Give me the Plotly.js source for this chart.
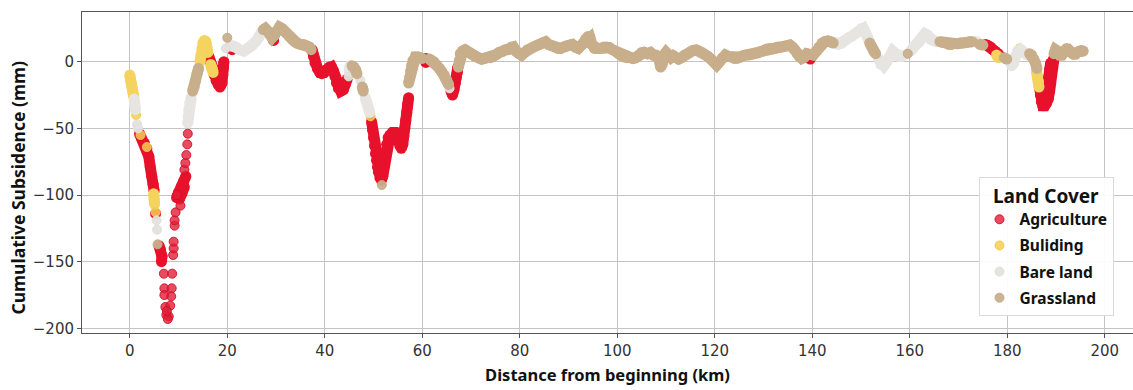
<!DOCTYPE html>
<html>
<head>
<meta charset="utf-8">
<script src="https://cdn.plot.ly/plotly-3.0.1.min.js"></script>
<style>html,body{margin:0;padding:0;background:#fff;}#chart{width:1133px;height:390px;}</style>
</head>
<body>
<div id="chart"></div>
<script>
// ---- DATA (distance km, cumulative subsidence mm) ----
const categories = ['Agriculture', 'Buliding', 'Bare land', 'Grassland'];
const xTicks = [0, 20, 40, 60, 80, 100, 120, 140, 160, 180, 200];
const yTicks = [-200, -150, -100, -50, 0];

// dense runs of points (null = break between runs)
const agricultureRuns = [
  [2.0,-54],[2.5,-58],[3.0,-61],[3.5,-65],[3.9,-71],[4.2,-79],[4.5,-86],[4.8,-92],[5.0,-97], null,
  [5.3,-114], null,
  [6.0,-138],[6.3,-141],[6.6,-146],[6.5,-150], null,
  [9.6,-102],[10.0,-98],[10.5,-94],[11.0,-90],[11.5,-86], null,
  [10.2,-103],[10.7,-99],[11.2,-94], null,
  [16.2,4],[16.5,0],[16.9,-5],[17.3,-10],[17.7,-14],[18.1,-17],[18.5,-19],[18.9,-16],[19.1,-10],[19.2,-5],[19.3,0], null,
  [17.6,-8],[18.2,-12],[18.7,-10], null,
  [21.0,9], null,
  [29.5,16], null,
  [37.4,9],[37.7,4],[38.0,-1],[38.5,-5],[39.0,-8],[39.4,-9],[39.9,-8],[40.4,-6],[40.9,-4],[41.4,-4],[41.8,-7],[42.1,-11],[42.4,-16],[42.8,-20],[43.3,-22],[43.8,-21],[44.2,-17],[44.6,-13], null,
  [49.6,-45],[49.8,-51],[50.0,-57],[50.2,-63],[50.4,-69],[50.6,-74],[50.8,-79],[51.0,-83],[51.3,-87],[51.6,-89],[51.9,-86],[52.1,-80],[52.3,-74],[52.5,-67],[52.7,-62],[53.0,-57],[53.4,-55],[53.9,-53],[54.4,-53],[54.8,-56],[55.1,-59],[55.4,-63],[55.7,-65],[56.0,-62],[56.2,-56],[56.4,-50],[56.6,-44],[56.8,-38],[57.0,-32],[57.2,-27], null,
  [50.9,-72],[51.4,-80],[51.9,-76], null,
  [60.75,-0.5],[60.75,2.5], null,
  [65.9,-22],[66.2,-25],[66.5,-21],[66.8,-16],[67.0,-12],[67.2,-8],[67.3,-4], null,
  [139.3,5],[139.6,2], null,
  [175.6,13],[176.1,12],[176.6,11],[177.1,9],[177.5,8],[178.1,6],[178.6,4], null,
  [186.6,-19],[186.8,-25],[187.0,-30],[187.3,-33],[187.7,-33],[188.1,-31],[188.4,-28],[188.7,-22],[188.9,-16],[189.1,-10],[189.3,-4],[189.5,1],[189.6,3], null,
  [187.6,-27],[188.0,-23],[188.3,-18],[188.5,-12],[188.7,-6],[188.9,-1], null
];
const agricultureDots = [
  [7.0,-159],[8.7,-159],[7.1,-170],[8.6,-170],[7.1,-175],[8.5,-176],[7.3,-184],[8.3,-183],
  [7.5,-190],[8.0,-191],[7.8,-193],[7.6,-187],
  [8.9,-145],[9.0,-140],[9.0,-135],[9.2,-123],[9.2,-119],[9.4,-113],[10.4,-108],[9.7,-100],
  [11.2,-81],[11.4,-76],[11.6,-70],[11.8,-62],[11.9,-54]
];
const buildingRuns = [
  [0.0,-10],[0.15,-13],[0.3,-16],[0.45,-19],[0.6,-22],[0.8,-26], null,
  [4.9,-99],[5.0,-103],[5.1,-107], null,
  [14.4,0],[14.6,5],[14.8,10],[15.0,14],[15.3,16],[15.6,15],[15.8,11],[16.0,7], null,
  [16.6,-2],[16.9,-5],[17.1,-8], null,
  [177.8,5],[178.2,3], null,
  [186.0,-7],[186.2,-11],[186.4,-15],[186.5,-19]
];
const buildingDots = [
  [1.3,-40],[2.2,-55],[3.5,-64],[5.3,-113],[49.4,-41],[182.5,10]
];
const bareRuns = [
  [0.9,-28],[1.0,-32],[1.15,-36], null,
  [11.9,-46],[12.0,-41],[12.1,-36],[12.3,-31],[12.6,-27], null,
  [20.6,12],[21.2,12],[21.7,11],[22.5,9],[23.4,8],[24.2,10],[25.1,12],[25.8,15],[26.4,18],[27.0,22], null,
  [45.0,-7],[45.2,-3], null,
  [48.3,-27],[48.6,-30],[48.9,-34],[49.2,-38], null,
  [144.6,14],[145.3,13],[146.0,14],[146.7,16],[147.4,18],[148.1,19],[148.8,21],[149.5,23],[150.1,25],[150.5,25],[150.9,22],[151.3,19],[151.7,15], null,
  [153.6,2],[154.1,-2],[154.7,-3],[155.3,0],[155.9,4],[156.5,8],[157.1,6],[157.7,4],[158.3,4],[158.9,5], null,
  [160.2,8],[160.8,11],[161.4,13],[162.0,15],[162.6,18],[163.1,21],[163.6,20],[164.2,17],[164.8,16],[165.5,15], null,
  [173.3,15],[173.8,15], null,
  [180.5,1],[180.9,-3],[181.3,-1],[181.7,4],[182.1,8],[182.8,9],[183.5,7],[184.1,5]
];
const bareDots = [
  [1.5,-47],[1.7,-50],[5.5,-119],[5.6,-126],[44.9,-11],[47.3,-14],[65.6,-20],[19.7,10]
];
const grassRuns = [
  [12.9,-22],[13.2,-19],[13.5,-14],[13.8,-9],[14.1,-5], null,
  [27.4,24],[27.8,25],[28.3,23],[28.8,20],[29.2,18],[29.7,20],[30.2,23],[30.7,26],[31.2,25],[31.7,23],[32.2,21],[32.7,19],[33.2,17],[33.8,15],[34.3,14],[35.0,13],[35.7,13],[36.3,12],[36.8,11],[37.2,9], null,
  [45.6,-3],[46.0,-4],[46.3,-6],[46.6,-9], null,
  [47.7,-19],[47.9,-22], null,
  [57.2,-16],[57.4,-12],[57.6,-7],[57.8,-3],[58.1,1],[58.6,3.5],[59.1,3.5],[59.6,3],[60.0,2.5], null,
  [61.5,2],[61.9,1],[62.4,0],[63.0,-2.5],[63.5,-5],[64.0,-7.5],[64.5,-10],[65.0,-13.7],[65.4,-17], null,
  [67.4,-4],[67.6,1],[67.8,6],[68.3,8],[68.8,9],[69.5,7],[70.2,5.5],[70.8,4],[71.5,3],[72.2,2],[72.8,2.5],[73.4,3],[74.0,3],[74.6,4],[75.2,5.5],[75.8,7],[76.4,7.5],[77.0,9],[77.7,9],[78.3,11],[78.7,11],[79.2,8],[79.8,6],[80.4,5],[81.0,7],[81.6,9],[82.2,10],[82.8,11],[83.4,12],[84.0,13],[84.6,14],[85.3,15],[85.9,13],[86.5,12],[87.2,11],[87.8,10],[88.4,10],[89.0,11],[89.6,12],[90.2,12.5],[90.8,13],[91.4,11],[92.0,10],[92.5,12],[93.0,14],[93.5,17],[94.0,19],[94.4,18],[94.8,13],[95.3,10],[95.9,10],[96.5,10],[97.2,11],[97.8,11],[98.4,10.5],[99.0,9],[99.6,8],[100.2,6],[100.8,4.5],[101.4,3.5],[102.0,3],[102.6,3],[103.2,2.5],[103.8,3],[104.4,5],[105.0,7],[105.6,7],[106.2,6],[106.8,7],[107.4,5],[108.0,5],[108.5,3],[108.9,-4],[109.2,-2],[109.6,5],[110.0,7],[110.5,5],[111.0,3],[111.5,4.5],[112.0,3],[112.6,2],[113.2,3],[113.8,5],[114.4,6],[115.0,7.5],[115.6,8.5],[116.2,8.8],[116.8,8],[117.4,7],[118.0,5.5],[118.6,4],[119.2,2],[119.8,0],[120.4,-2.5],[121.0,0],[121.6,3],[122.2,5],[122.8,4],[123.4,3.5],[124.0,2.5],[124.6,2.5],[125.2,3.5],[125.8,4.5],[126.4,5],[127.0,5],[127.6,5.5],[128.2,6],[128.8,6.5],[129.4,7.5],[130.0,8.5],[130.6,9.5],[131.2,10],[131.8,10],[132.4,10.5],[133.0,11],[133.6,11],[134.2,11.5],[134.8,12],[135.4,12.5],[135.9,11],[136.4,9],[136.9,6],[137.4,3.5],[137.9,2.5],[138.4,3.5],[138.9,6],[140.2,5],[140.8,8],[141.4,11],[142.0,14],[142.6,15],[143.2,15.5],[143.9,15],[144.3,14], null,
  [151.8,14],[152.2,11],[152.6,8],[153.0,6], null,
  [166.2,15],[166.8,14.5],[167.4,14],[168.0,13],[168.6,13],[169.2,13.5],[169.8,13.5],[170.4,14],[171.0,14],[171.6,14.5],[172.2,15],[172.8,15], null,
  [174.4,13],[175.0,12.5], null,
  [179.4,3],[179.9,2], null,
  [184.6,6],[185.0,5],[185.4,2],[185.8,-1],[186.1,-5], null,
  [189.6,6],[189.9,9],[190.3,8],[190.8,5],[191.2,5],[191.7,8],[192.2,10],[192.6,9],[193.1,7],[193.6,5.5],[194.1,6],[194.6,7.5],[195.1,8.5],[195.6,8]
];
const grassDots = [
  [5.7,-137],[20.0,18],[51.7,-92.5],[159.6,6]
];

// ---- STYLE ----
const style = {
  Agriculture: {run: '#e8112b', dot: 'rgba(226,30,55,0.8)', edge: 'rgba(205,15,40,0.9)'},
  Buliding:    {run: '#f4d35e', dot: 'rgba(244,206,80,0.85)', edge: 'rgba(240,200,70,0.9)'},
  'Bare land': {run: '#e7e5e1', dot: 'rgba(228,226,222,0.95)', edge: 'rgba(225,223,219,1)'},
  Grassland:   {run: '#c8ae8b', dot: 'rgba(200,176,142,0.95)', edge: 'rgba(195,170,135,1)'}
};
const RUN_SIZE = 11;
const DOT_SIZE = 9;
const xs = a => a.map(p => p ? p[0] : null);
const ys = a => a.map(p => p ? p[1] : null);

const sets = [
  ['Agriculture', agricultureRuns, agricultureDots],
  ['Buliding', buildingRuns, buildingDots],
  ['Bare land', bareRuns, bareDots],
  ['Grassland', grassRuns, grassDots]
];
const traces = [];
sets.forEach(([name, runs, dots]) => {
  const s = style[name];
  traces.push({
    type: 'scatter', mode: 'lines+markers', x: xs(runs), y: ys(runs),
    line: {color: s.run, width: RUN_SIZE}, marker: {color: s.run, size: RUN_SIZE},
    showlegend: false, hoverinfo: 'skip', connectgaps: false, legendgroup: name
  });
  traces.push({
    type: 'scatter', mode: 'markers', name: name, x: xs(dots), y: ys(dots),
    marker: {color: s.dot, size: DOT_SIZE, line: {color: s.edge, width: 1}},
    showlegend: true, hoverinfo: 'skip', legendgroup: name
  });
});

const axisCommon = {
  showgrid: true, gridcolor: '#c4c4c4', gridwidth: 1, zeroline: false,
  showline: true, mirror: true, linecolor: '#555', linewidth: 1,
  ticks: 'outside', ticklen: 4, tickcolor: '#555', tickwidth: 1,
  tickfont: {family: 'DejaVu Sans, sans-serif', size: 15, color: '#333'}
};
const layout = {
  width: 1133, height: 390,
  margin: {l: 82, r: 0, t: 12, b: 57, pad: 0},
  paper_bgcolor: '#fff', plot_bgcolor: '#fff',
  xaxis: Object.assign({}, axisCommon, {
    range: [-9.8, 205.8], tickvals: xTicks, ticktext: xTicks.map(String),
    title: {text: '<b>Distance from beginning (km)</b>', font: {family: 'Noto Sans, sans-serif', size: 16.5, color: '#111'}, standoff: 10}
  }),
  yaxis: Object.assign({}, axisCommon, {
    range: [-203.5, 37.3], tickvals: yTicks, ticktext: yTicks.map(v => v < 0 ? '\u2212' + Math.abs(v) : String(v))
  }),
  annotations: [{
    text: '<b>Cumulative Subsidence (mm)</b>', textangle: -90,
    xref: 'paper', yref: 'paper', x: -0.0609, y: 0.453, xanchor: 'center', yanchor: 'middle',
    showarrow: false, font: {family: 'Noto Sans, sans-serif', size: 17.5, color: '#111'}
  }],
  legend: {
    x: 0.853, xanchor: 'left', y: 0.486, yanchor: 'top',
    bgcolor: 'rgba(255,255,255,0.92)', bordercolor: '#dadada', borderwidth: 1,
    font: {family: 'Noto Sans, sans-serif', size: 15.5, color: '#111', weight: 'bold'},
    title: {text: '<b>Land Cover</b>', side: 'top center', font: {family: 'Noto Sans, sans-serif', size: 19, color: '#111'}},
    itemsizing: 'trace', traceorder: 'grouped', tracegroupgap: 3
  },
  hovermode: false
};
Plotly.newPlot('chart', traces, layout, {displayModeBar: false, staticPlot: true});
</script>
</body>
</html>
